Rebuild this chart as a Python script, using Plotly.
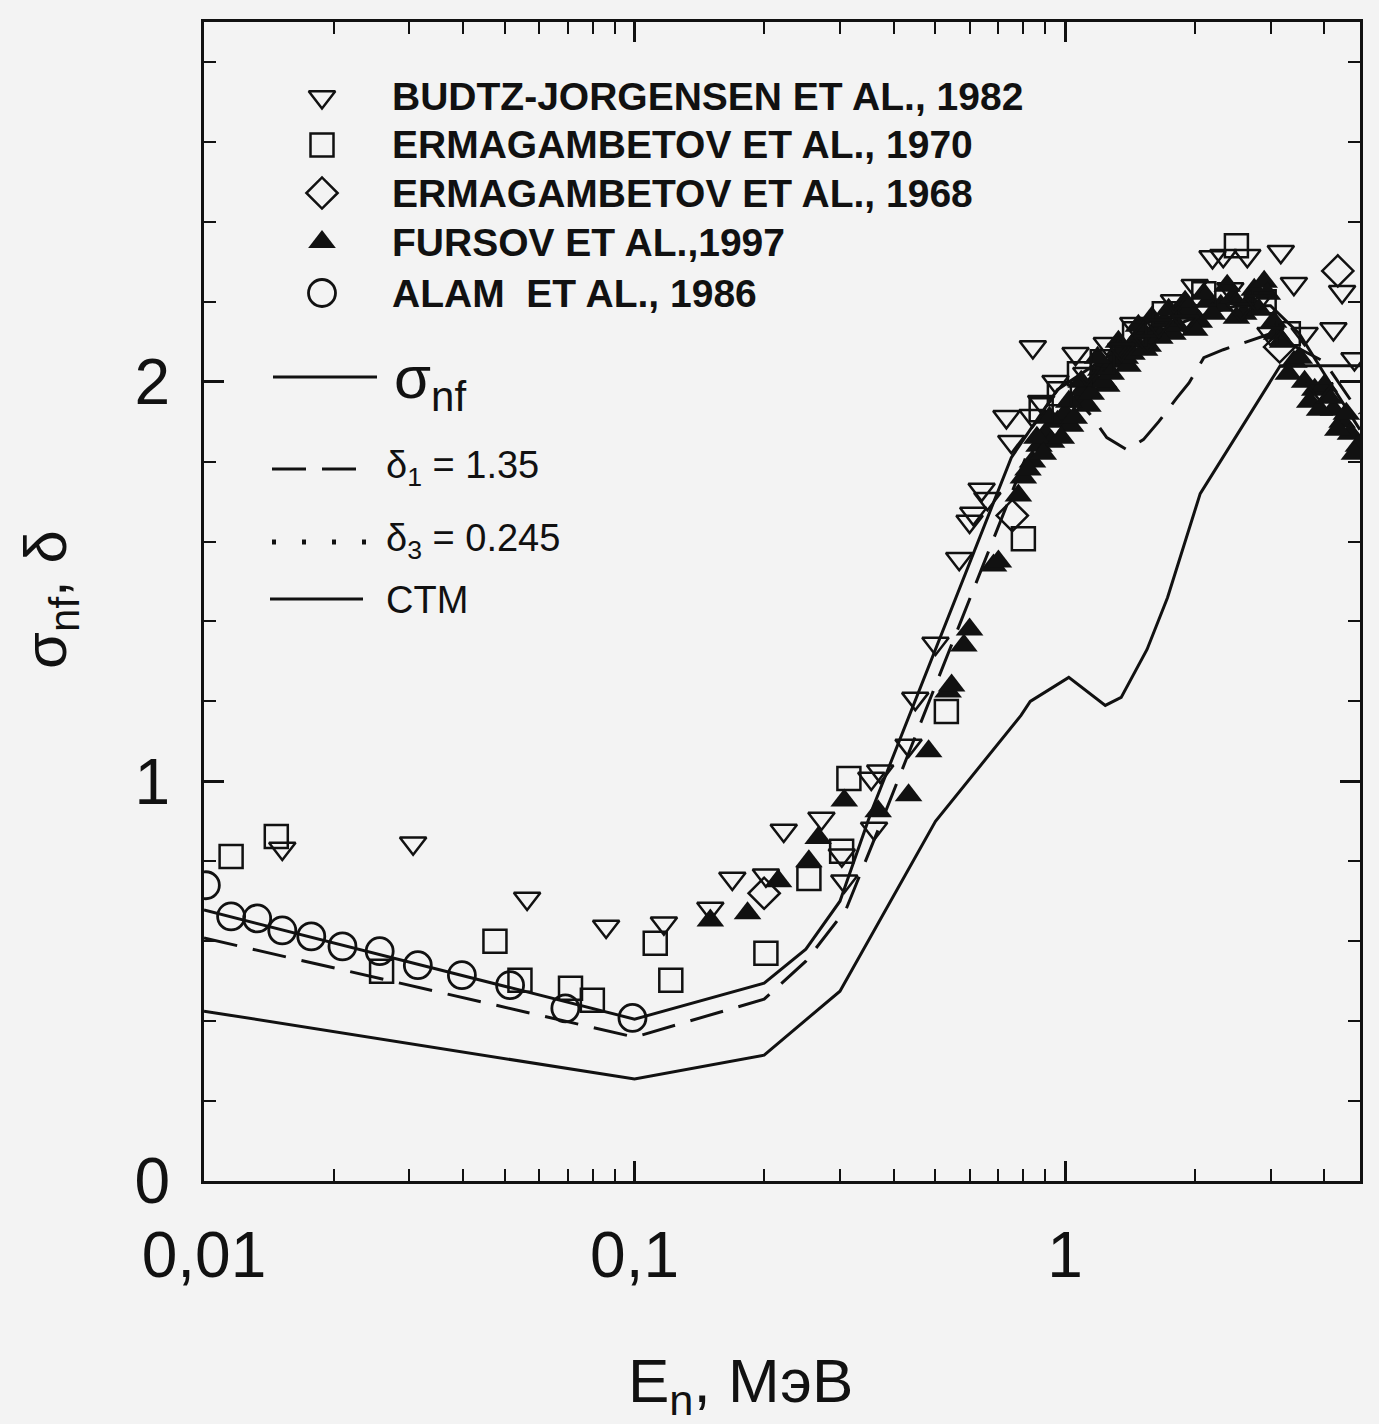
import plotly.graph_objects as go

# ---------------- data ----------------
alam_E = [0.0101, 0.01156, 0.01329, 0.0152, 0.01775, 0.02097, 0.02559, 0.03138, 0.03972, 0.0514, 0.06907, 0.0989]
alam_y = [0.74, 0.662, 0.657, 0.627, 0.612, 0.587, 0.575, 0.54, 0.515, 0.49, 0.432, 0.408]

budtz_E = [0.0152, 0.0306, 0.0563, 0.0859, 0.117, 0.150, 0.1687, 0.2019, 0.2221, 0.2717, 0.303, 0.307,
           0.3547, 0.36, 0.372, 0.433, 0.4488, 0.50, 0.5677, 0.60, 0.612, 0.64, 0.66, 0.7307, 0.75,
           0.8417, 0.84, 0.88, 0.95, 1.0575, 1.12, 1.25, 1.35, 1.44, 1.55, 1.65, 1.79, 1.9, 2.0,
           2.2, 2.33, 2.42, 2.55, 2.65, 2.8, 3.0, 3.17, 3.4, 3.6, 3.9, 4.2, 4.4, 4.7]
budtz_y = [0.832, 0.845, 0.707, 0.637, 0.645, 0.682, 0.757, 0.765, 0.877, 0.907, 0.815, 0.75,
           1.007, 0.882, 1.025, 1.09, 1.207, 1.345, 1.557, 1.65, 1.67, 1.73, 1.707, 1.912, 1.85,
           2.087, 1.915, 1.95, 2.0, 2.07, 2.02, 2.095, 2.08, 2.145, 2.10, 2.14, 2.202, 2.15, 2.24,
           2.312, 2.315, 2.232, 2.18, 2.315, 2.2, 2.12, 2.325, 2.245, 2.12, 1.982, 2.132, 2.225, 2.057]

erm70_E = [0.01156, 0.01472, 0.02585, 0.0474, 0.05418, 0.0710, 0.0798, 0.1117, 0.1214, 0.2019,
           0.2541, 0.3027, 0.3147, 0.53, 0.80, 0.88, 0.97, 1.08, 1.22, 1.45, 1.7, 2.1, 2.5, 2.9, 3.3]
erm70_y = [0.812, 0.862, 0.525, 0.60, 0.502, 0.482, 0.452, 0.595, 0.502, 0.57,
           0.757, 0.825, 1.007, 1.175, 1.607, 1.93, 1.97, 2.02, 2.05, 2.12, 2.17, 2.22, 2.34, 2.2, 2.12]

erm68_E = [0.20, 0.754, 3.15, 4.3]
erm68_y = [0.72, 1.665, 2.087, 2.277]

fursov_E = [0.150, 0.183, 0.216, 0.254, 0.267, 0.307, 0.368, 0.433, 0.482, 0.535, 0.545, 0.582, 0.60,
            0.682, 0.70, 0.779, 0.80, 0.84, 0.87, 0.90, 0.93, 0.96, 1.00, 1.03, 1.07, 1.10, 1.13,
            1.17, 1.21, 1.25, 1.30, 1.35, 1.40, 1.45, 1.50, 1.56, 1.62, 1.70, 1.78, 1.85, 1.95,
            2.05, 2.15, 2.30, 2.45, 2.60, 2.75, 2.90, 3.05, 3.20, 3.40, 3.60, 3.80, 4.00, 4.20,
            4.40, 4.60, 4.80,
            0.82, 0.86, 0.89, 0.92, 0.98, 1.02, 1.05, 1.09, 1.15, 1.19, 1.23, 1.28, 1.33, 1.38,
            1.43, 1.48, 1.53, 1.59, 1.66, 1.74, 1.82, 1.90, 2.00, 2.10, 2.20, 2.38, 2.50, 2.68,
            2.82, 2.95, 3.10, 3.30, 3.50, 3.70, 3.90, 4.10, 4.30, 4.50, 4.70]
fursov_y = [0.652, 0.670, 0.750, 0.800, 0.858, 0.952, 0.925, 0.965, 1.075, 1.225, 1.24, 1.340, 1.38,
            1.540, 1.55, 1.715, 1.76, 1.80, 1.84, 1.87, 1.85, 1.90, 1.92, 1.89, 1.95, 1.98, 1.94,
            2.00, 2.03, 1.99, 2.05, 2.08, 2.04, 2.10, 2.12, 2.09, 2.13, 2.15, 2.12, 2.17, 2.18,
            2.15, 2.20, 2.19, 2.21, 2.17, 2.23, 2.25, 2.15, 2.10, 2.05, 2.00, 1.98, 1.99, 1.93,
            1.90, 1.87, 1.84,
            1.78, 1.86, 1.82, 1.91, 1.86, 1.95, 1.91, 2.00, 1.97, 2.06, 2.00, 2.02, 2.10, 2.06,
            2.07, 2.14, 2.08, 2.16, 2.11, 2.18, 2.14, 2.20, 2.13, 2.22, 2.17, 2.24, 2.16, 2.20,
            2.18, 2.22, 2.12, 2.02, 2.06, 1.95, 1.93, 1.96, 1.88, 1.92, 1.82]

snf_E = [0.01, 0.1, 0.2, 0.25, 0.3, 0.355, 0.75, 0.96, 1.2, 1.5, 2.0, 2.5, 3.0, 3.5, 4.0, 4.84]
snf_y = [0.678, 0.405, 0.495, 0.58, 0.70, 0.925, 1.81, 1.98, 2.05, 2.11, 2.16, 2.19, 2.19, 2.12, 2.02, 1.88]

d1_E = [0.01, 0.1, 0.2, 0.25, 0.31, 0.383, 0.81, 0.95, 1.08, 1.14, 1.25, 1.39, 1.52, 1.65, 1.82,
        1.94, 2.1, 2.33, 3.0, 4.0, 4.84]
d1_y = [0.608, 0.36, 0.455, 0.55, 0.68, 0.925, 1.81, 1.93, 1.95, 1.92, 1.86, 1.83, 1.855, 1.90, 1.96,
        1.997, 2.06, 2.08, 2.12, 2.05, 1.92]

ctm_E = [0.01, 0.1, 0.2, 0.3, 0.5, 0.79, 0.83, 1.02, 1.24, 1.35, 1.55, 1.73, 2.06, 3.16, 4.84]
ctm_y = [0.425, 0.255, 0.315, 0.475, 0.90, 1.165, 1.20, 1.26, 1.19, 1.21, 1.33, 1.46, 1.72, 2.04, 2.04]

x_tickvals = [0.01, 0.1, 1]
x_ticktext = ["0,01", "0,1", "1"]
y_tickvals = [0, 1, 2]
y_ticktext = ["0", "1", "2"]

marker_labels = ["BUDTZ-JORGENSEN ET AL., 1982", "ERMAGAMBETOV ET AL., 1970",
                 "ERMAGAMBETOV ET AL., 1968", "FURSOV ET AL.,1997", "ALAM  ET AL., 1986"]
line_labels = ["σ<sub>nf</sub>", "δ<sub>1</sub> = 1.35", "δ<sub>3</sub> = 0.245", "CTM"]

# ---------------- styling ----------------
INK = "#111111"
BG = "#f3f3f3"
FONT = "Liberation Sans, Arial, Helvetica, sans-serif"
L, R, T, B = 204, 1360, 22, 1181
W, H = 1379, 1424
PW, PH = R - L, B - T


def xf(px):
    return (px - L) / PW


def yf(py):
    return (B - py) / PH


DASH = "34px,16px"
DOT = "4px,26px"

sym = dict(
    budtz=dict(symbol="triangle-down-open", size=23, color=INK, line=dict(width=2.5, color=INK)),
    erm70=dict(symbol="square-open", size=23, color=INK, line=dict(width=2.5, color=INK)),
    erm68=dict(symbol="diamond-open", size=24, color=INK, line=dict(width=2.5, color=INK)),
    fursov=dict(symbol="triangle-up", size=24, color=INK, line=dict(width=0)),
    alam=dict(symbol="circle-open", size=27, color=INK, line=dict(width=2.8, color=INK)),
)

fig = go.Figure()

# curves
fig.add_trace(go.Scatter(x=ctm_E, y=ctm_y, mode="lines", line=dict(color=INK, width=3)))
fig.add_trace(go.Scatter(x=d1_E, y=d1_y, mode="lines", line=dict(color=INK, width=3, dash=DASH)))
fig.add_trace(go.Scatter(x=snf_E, y=snf_y, mode="lines", line=dict(color=INK, width=3)))

# experimental points
fig.add_trace(go.Scatter(x=fursov_E, y=fursov_y, mode="markers", marker=sym["fursov"]))
fig.add_trace(go.Scatter(x=erm70_E, y=erm70_y, mode="markers", marker=sym["erm70"]))
fig.add_trace(go.Scatter(x=erm68_E, y=erm68_y, mode="markers", marker=sym["erm68"]))
fig.add_trace(go.Scatter(x=budtz_E, y=budtz_y, mode="markers", marker=sym["budtz"]))
fig.add_trace(go.Scatter(x=alam_E, y=alam_y, mode="markers", marker=sym["alam"]))

# ---------------- hand-made legend (overlay axes 0..1) ----------------
marker_rows_py = [97, 145, 193, 242, 293]
for key, py in zip(["budtz", "erm70", "erm68", "fursov", "alam"], marker_rows_py):
    fig.add_trace(go.Scatter(x=[xf(322)], y=[yf(py)], mode="markers", marker=sym[key],
                             xaxis="x2", yaxis="y2"))

line_rows = [(273, 377, 377, dict(color=INK, width=3)),
             (272, 363, 469, dict(color=INK, width=3, dash=DASH)),
             (272, 366, 542, dict(color=INK, width=5, dash=DOT)),
             (270, 363, 599, dict(color=INK, width=3))]
for x0, x1, py, ln in line_rows:
    fig.add_trace(go.Scatter(x=[xf(x0), xf(x1)], y=[yf(py), yf(py)], mode="lines", line=ln,
                             xaxis="x2", yaxis="y2"))

annotations = []
for lab, py in zip(marker_labels, marker_rows_py):
    annotations.append(dict(text="<b>" + lab + "</b>", x=xf(390), y=yf(py), xref="paper", yref="paper",
                            xanchor="left", yanchor="middle", showarrow=False,
                            font=dict(size=39, color=INK, family=FONT)))
line_text_rows = [(392, 382, 60), (384, 468, 38), (384, 541, 38), (384, 600, 38)]
for lab, (px, py, fs) in zip(line_labels, line_text_rows):
    annotations.append(dict(text=lab, x=xf(px), y=yf(py), xref="paper", yref="paper",
                            xanchor="left", yanchor="middle", showarrow=False,
                            font=dict(size=fs, color=INK, family=FONT)))

# axis titles
annotations.append(dict(text="E<sub>n</sub>, МэВ", x=xf(740), y=yf(1385), xref="paper", yref="paper",
                        xanchor="center", yanchor="middle", showarrow=False,
                        font=dict(size=62, color=INK, family=FONT)))
annotations.append(dict(text="σ<sub>nf</sub>, δ", x=xf(50), y=yf(600), xref="paper", yref="paper",
                        xanchor="center", yanchor="middle", showarrow=False, textangle=-90,
                        font=dict(size=60, color=INK, family=FONT)))

x_minor = [m * d for d in (0.01, 0.1, 1) for m in range(2, 10) if m * d < 4.84]
y_minor = [v / 10 for v in range(2, 29, 2) if v % 10 != 0]

fig.update_layout(
    width=W, height=H,
    margin=dict(l=L, r=W - R, t=T, b=H - B, pad=0),
    paper_bgcolor=BG, plot_bgcolor=BG,
    showlegend=False,
    annotations=annotations,
    font=dict(family=FONT, color=INK),
    xaxis=dict(
        type="log", range=[-2, 0.685],
        tickmode="array", tickvals=x_tickvals, ticktext=x_ticktext,
        ticks="inside", ticklen=20, tickwidth=2.5, tickcolor=INK,
        showline=True, linewidth=3, linecolor=INK, mirror="allticks",
        showgrid=False, zeroline=False,
        tickfont=dict(size=64, color=INK, family=FONT),
        ticklabelstandoff=16,
        minor=dict(tickmode="array", tickvals=x_minor, ticks="inside", ticklen=12,
                   tickwidth=2, tickcolor=INK, showgrid=False),
    ),
    yaxis=dict(
        range=[0, 2.9],
        tickmode="array", tickvals=y_tickvals, ticktext=y_ticktext,
        ticks="inside", ticklen=20, tickwidth=2.5, tickcolor=INK,
        showline=True, linewidth=3, linecolor=INK, mirror="allticks",
        showgrid=False, zeroline=False,
        tickfont=dict(size=64, color=INK, family=FONT),
        ticklabelstandoff=18,
        minor=dict(tickmode="array", tickvals=y_minor, ticks="inside", ticklen=12,
                   tickwidth=2, tickcolor=INK, showgrid=False),
    ),
    xaxis2=dict(overlaying="x", range=[0, 1], visible=False, fixedrange=True),
    yaxis2=dict(overlaying="y", range=[0, 1], visible=False, fixedrange=True),
)

fig.write_html("out.html")
